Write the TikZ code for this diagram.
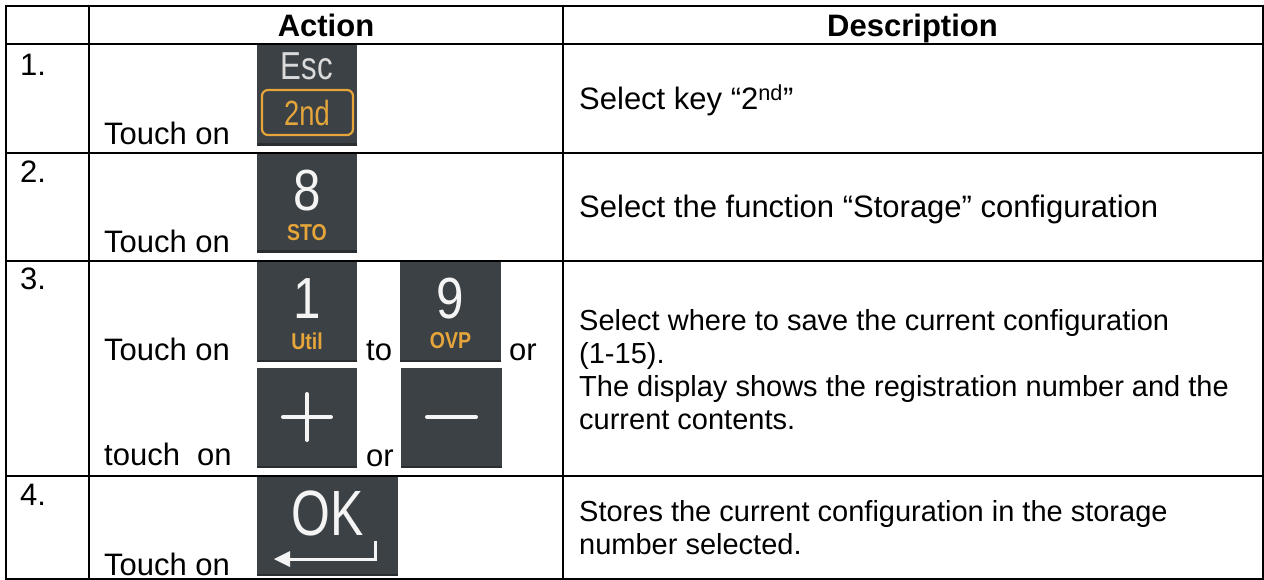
\documentclass[tikz,border=0pt]{standalone}
\usepackage{fontspec}
\setmainfont{Liberation Sans}
\usepackage{graphicx}
\definecolor{keybg}{HTML}{3B4145}
\definecolor{keyshade}{HTML}{2A2E31}
\definecolor{keyorange}{HTML}{E5A53B}
\definecolor{keywhite}{HTML}{F4F4F4}
\definecolor{keygrey}{HTML}{DADADA}
\newcommand{\cond}[2]{\scalebox{#1}[1]{#2}}
\begin{document}
\begin{tikzpicture}[x=1pt,y=-1pt,
  gridline/.style={line width=2.6pt,black},
  body/.style={font=\fontsize{31}{31}\selectfont,inner sep=0pt,anchor=base west},
  desc/.style={font=\fontsize{31}{31}\selectfont,inner sep=0pt,anchor=base west},
  descsm/.style={font=\fontsize{29}{29}\selectfont,inner sep=0pt,anchor=base west},
  hdr/.style={font=\fontsize{31}{31}\selectfont\bfseries,inner sep=0pt,anchor=base},
  keybox/.style={fill=keybg},
  keyedge/.style={fill=keyshade},
  digit/.style={text=keywhite,inner sep=0pt,font=\fontsize{58}{58}\selectfont},
  sublabel/.style={text=keyorange,inner sep=0pt,font=\fontsize{23}{23}\selectfont\bfseries},
  glyph/.style={draw=keywhite,line width=4pt,line cap=round}
]
\useasboundingbox (0,0) rectangle (1264,580);
\fill[white] (0,0) rectangle (1264,580);

% ---------- keys ----------
\fill[keybox] (257,45) rectangle (357,146);
\fill[keyedge] (257,143.5) rectangle (357,146);
\fill[keybox] (257,154) rectangle (357,253);
\fill[keyedge] (257,250.5) rectangle (357,253);
\fill[keybox] (257,262) rectangle (357,362);
\fill[keyedge] (257,359.5) rectangle (357,362);
\fill[keybox] (400,262) rectangle (501,362);
\fill[keyedge] (400,359.5) rectangle (501,362);
\fill[keybox] (257,368) rectangle (357,468);
\fill[keyedge] (257,465.5) rectangle (357,468);
\fill[keybox] (401,368) rectangle (502,468);
\fill[keyedge] (401,465.5) rectangle (502,468);
\fill[keybox] (257,477) rectangle (398,576);
\fill[keyedge] (257,573.5) rectangle (398,576);

% Esc / 2nd
\node[text=keygrey,inner sep=0pt,font=\fontsize{39}{39}\selectfont] (esc) at (307,66) {\cond{0.8}{Esc}};
\draw[keyorange,line width=2.2pt,rounded corners=6pt] (262,90) rectangle (353,135);
\node[text=keyorange,inner sep=0pt,font=\fontsize{35}{35}\selectfont] (snd) at (307,112.5) {\cond{0.78}{2nd}};

% 8 / STO
\node[digit] (k8) at (307,191) {\cond{0.85}{8}};
\node[sublabel] (sto) at (307,233) {\cond{0.85}{STO}};
% 1 / Util
\node[digit] (k1) at (307,299) {\cond{0.85}{1}};
\node[sublabel] (util) at (307,341) {\cond{0.85}{Util}};
% 9 / OVP
\node[digit] (k9) at (450.5,299) {\cond{0.85}{9}};
\node[sublabel] (ovp) at (450.5,341) {\cond{0.85}{OVP}};
% plus / minus
\draw[glyph] (283,417) -- (331,417);
\draw[glyph] (307,394) -- (307,440);
\draw[glyph] (427,417) -- (476,417);
% OK
\node[text=keywhite,inner sep=0pt,font=\fontsize{64}{64}\selectfont] (ok) at (328,513.5) {\cond{0.78}{OK}};
\draw[keywhite,line width=3pt] (375,541) -- (375,559) -- (287,559);
\fill[keywhite] (274,559) -- (290,551) -- (290,567) -- cycle;

% ---------- grid ----------
\draw[gridline] (6,6) -- (1264,6);
\draw[gridline] (6,4.7) -- (6,580);
\draw[gridline] (1263,6) -- (1263,580);
\draw[gridline] (6,579.3) -- (1264,579.3);
\draw[gridline] (89,6) -- (89,580);
\draw[gridline] (563,6) -- (563,580);
\draw[gridline] (6,44) -- (1264,44);
\draw[gridline] (6,153) -- (1264,153);
\draw[gridline] (6,261) -- (1264,261);
\draw[gridline] (6,476) -- (1264,476);

% ---------- header ----------
\node[hdr] (hact) at (326,36.5) {Action};
\node[hdr] (hdesc) at (912.5,36.5) {Description};

% ---------- row numbers ----------
\node[body] (n1) at (20,76) {1.};
\node[body] (n2) at (20,183) {2.};
\node[body] (n3) at (20,290) {3.};
\node[body] (n4) at (20,505) {4.};

% ---------- action texts ----------
\node[body] (a1) at (104,145) {Touch on};
\node[body] (a2) at (104,252) {Touch on};
\node[body] (a3) at (104,360) {Touch on};
\node[body] (to) at (366,360) {to};
\node[body] (or1) at (509,360) {or};
\node[body] (a3b) at (104,465) {touch\ \ on};
\node[body] (or2) at (366,466) {or};
\node[body] (a4) at (104,575) {Touch on};

% ---------- descriptions ----------
\node[desc] (d1) at (579,110) {Select key “2\textsuperscript{nd}”};
\node[desc] (d2) at (579,218) {Select the function “Storage” configuration};
\node[descsm] (d3a) at (579,330) {Select where to save the current configuration};
\node[descsm] (d3b) at (579,363) {(1-15).};
\node[descsm] (d3c) at (579,396) {The display shows the registration number and the};
\node[descsm] (d3d) at (579,429) {current contents.};
\node[descsm] (d4a) at (579,521) {Stores the current configuration in the storage};
\node[descsm] (d4b) at (579,554) {number selected.};
\end{tikzpicture}
\end{document}
